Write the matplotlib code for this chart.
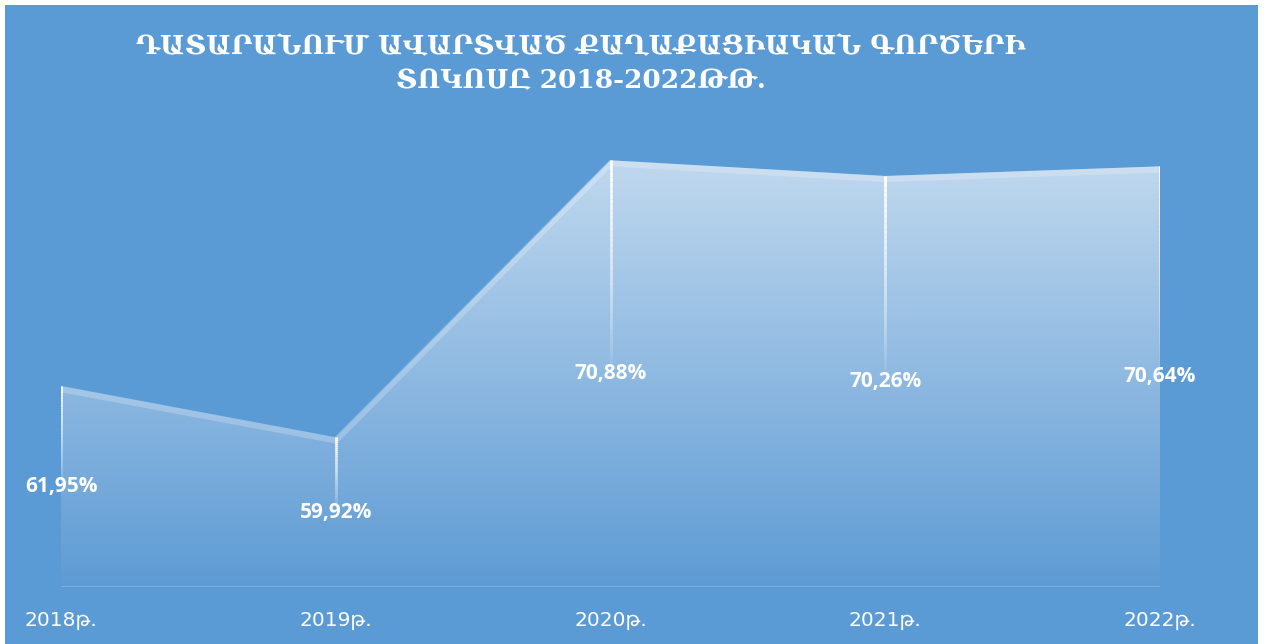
import numpy as np
import matplotlib
matplotlib.use("Agg")
import matplotlib.pyplot as plt
from matplotlib.patches import Rectangle
from matplotlib.collections import LineCollection
from matplotlib.colors import LinearSegmentedColormap

# data
years = ["2018թ.", "2019թ.", "2020թ.", "2021թ.", "2022թ."]
values = [61.95, 59.92, 70.88, 70.26, 70.64]
value_labels = ["61,95%", "59,92%", "70,88%", "70,26%", "70,64%"]
title = "ԴԱՏԱՐԱՆՈՒՄ ԱՎԱՐՏՎԱԾ ՔԱՂԱՔԱՑԻԱԿԱՆ ԳՈՐԾԵՐԻ\nՏՈԿՈՍԸ 2018-2022ԹԹ."

W, H = 1265, 644
bg = "#5B9BD5"
ymin, ymax = 54.0, 72.0

fig = plt.figure(figsize=(W / 100, H / 100), dpi=100, facecolor="white")
# blue panel
fig.patches.append(Rectangle((5 / W, 0), 1253 / W, 639 / H, transform=fig.transFigure,
                             facecolor=bg, edgecolor="none", zorder=-5))

# axes: x from 61px to 1160px, baseline at y=587px, 72 at y=132px
ax = fig.add_axes([61 / W, (H - 587) / H, 1099 / W, 455 / H])
ax.set_facecolor("none")
ax.set_xlim(0, 4)
ax.set_ylim(ymin, ymax)
ax.axis("off")

x = np.arange(len(values))
v = np.array(values)

# gradient area
cmap = LinearSegmentedColormap.from_list("g", ["#5E9BD4", "#C6DCF0"])
grad = np.linspace(0, 1, 256).reshape(-1, 1)
im = ax.imshow(grad, extent=[0, 4, ymin, ymax], origin="lower", aspect="auto",
               cmap=cmap, vmin=0, vmax=1, zorder=1)
poly = ax.fill_between(x, ymin, v, facecolor="none", edgecolor="none")
clip = poly.get_paths()[0]
im.set_clip_path(clip, transform=ax.transData)

# lighter top edge
ax.plot(x, v - 0.12, color="white", alpha=0.22, lw=4.5, solid_joinstyle="miter", zorder=2)

# baseline
ax.plot([0, 4], [ymin, ymin], color="white", alpha=0.2, lw=1.5, zorder=2)

# fading drop lines
for i, val in enumerate(values):
    mid = (ymin + val) / 2
    ys = np.linspace(val, mid, 40)
    segs = [[(i, ys[k]), (i, ys[k + 1])] for k in range(len(ys) - 1)]
    alphas = np.linspace(1, 0, len(segs)) ** 0.8
    cols = [(1, 1, 1, a) for a in alphas]
    ax.add_collection(LineCollection(segs, colors=cols, linewidths=2, zorder=3))

# value labels in middle of area
for i, val in enumerate(values):
    ax.text(i, (ymin + val) / 2, value_labels[i], ha="center", va="center",
            color="white", fontsize=15, fontweight="bold",
            family=["Open Sans", "DejaVu Sans"], zorder=4)

# category labels
for i, lab in enumerate(years):
    ax.annotate(lab, (i, ymin), xytext=(0, -33), textcoords="offset pixels",
                ha="center", va="center", color="white", fontsize=14.5,
                family=["DejaVu Sans"], annotation_clip=False)

fig.text(581 / W, 1 - 64 / H, title, ha="center", va="center", color="white",
         fontsize=19, fontweight="bold", family=["DejaVu Serif", "DejaVu Sans"],
         linespacing=1.45)

fig.savefig("out.png", dpi=100, facecolor="white")
